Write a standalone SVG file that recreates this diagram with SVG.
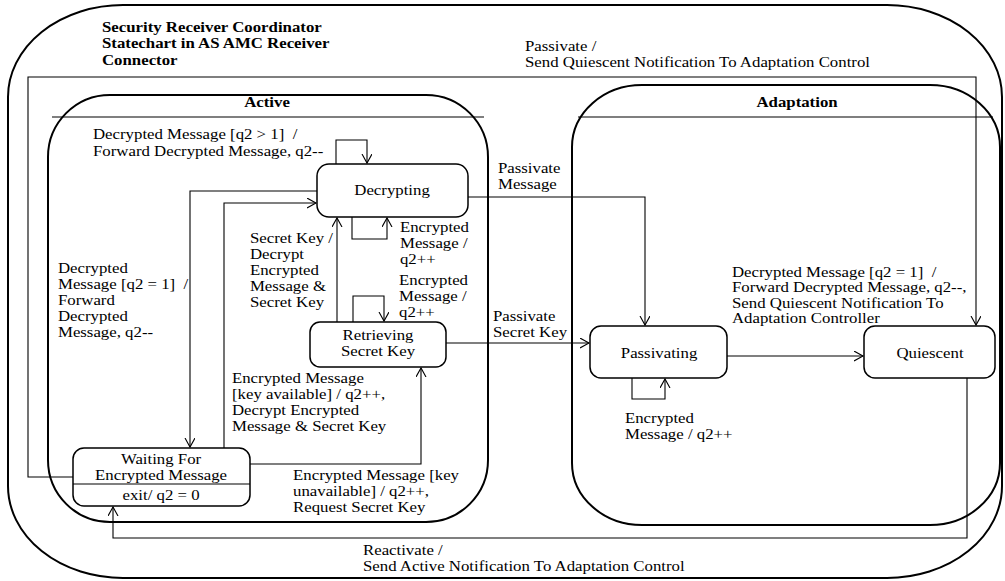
<svg xmlns="http://www.w3.org/2000/svg" width="1005" height="581" viewBox="0 0 1005 581">
<defs>
<marker id="arr" markerUnits="userSpaceOnUse" markerWidth="12" markerHeight="12" refX="9" refY="5" orient="auto">
<path d="M0,0 L9,5 L0,10" fill="none" stroke="#000" stroke-width="1.1"/>
</marker>
<style>
text{font-family:"Liberation Serif","Times New Roman",serif;font-size:14px;fill:#000;white-space:pre}
.b{font-weight:bold}
.c{text-anchor:middle}
.st{fill:#fff;stroke:#000;stroke-width:1.5}
.comp{fill:none;stroke:#000;stroke-width:2}
.ln{fill:none;stroke:#000;stroke-width:1.2}
.cn{fill:none;stroke:#000;stroke-width:1.1;marker-end:url(#arr)}
</style>
</defs>
<rect width="1005" height="581" fill="#fff"/>
<g id="outer">
<rect class="comp" x="8" y="5" width="994" height="573" rx="115" ry="92"/>
<g transform="scale(1.2 1)">
<text class="b" x="85" y="32">Security Receiver Coordinator</text>
<text class="b" x="85" y="48.5">Statechart in AS AMC Receiver</text>
<text class="b" x="85" y="65">Connector</text>
</g>
</g>
<g id="active">
<rect class="comp" x="48" y="95" width="440" height="427" rx="62" ry="62"/>
<line class="ln" x1="52" y1="117" x2="484" y2="117"/>
<text class="b c" transform="scale(1.2 1)" x="222.5" y="107">Active</text>
</g>
<g id="adaptation">
<rect class="comp" x="572" y="85" width="428" height="440" rx="70" ry="62"/>
<line class="ln" x1="578" y1="117" x2="993" y2="117"/>
<text class="b c" transform="scale(1.2 1)" x="664.2" y="107">Adaptation</text>
</g>
<g id="connectors">
<path class="cn" d="M73,477 H28 V77 H976 V325"/>
<path class="cn" d="M967,378 V538 H113 V507"/>
<path class="cn" d="M336,164 V140 H367 V163"/>
<path class="cn" d="M352,217 V239 H387 V218"/>
<path class="cn" d="M317,191 H190 V447"/>
<path class="cn" d="M224,448 V203 H316"/>
<path class="cn" d="M337,322 V218"/>
<path class="cn" d="M353,322 V296 H384 V321"/>
<path class="cn" d="M250,464 H421 V368"/>
<path class="cn" d="M468,197 H645 V325"/>
<path class="cn" d="M446,343 H589"/>
<path class="cn" d="M632,378 V399 H665 V379"/>
<path class="cn" d="M727,356 H863"/>
<g transform="scale(1.2 1)">
<text x="437.5" y="51">Passivate /</text>
<text x="437.5" y="67">Send Quiescent Notification To Adaptation Control</text>
<text x="302.5" y="555">Reactivate /</text>
<text x="302.5" y="571">Send Active Notification To Adaptation Control</text>
<text x="77.5" y="139">Decrypted Message [q2 &gt; 1]  /</text>
<text x="77.5" y="156">Forward Decrypted Message, q2--</text>
<text x="333.3" y="232">Encrypted</text>
<text x="333.3" y="248">Message /</text>
<text x="333.3" y="264">q2++</text>
<text x="48.3" y="273">Decrypted</text>
<text x="48.3" y="289">Message [q2 = 1]  /</text>
<text x="48.3" y="305">Forward</text>
<text x="48.3" y="321">Decrypted</text>
<text x="48.3" y="337">Message, q2--</text>
<text x="208.3" y="243">Secret Key /</text>
<text x="208.3" y="259">Decrypt</text>
<text x="208.3" y="275">Encrypted</text>
<text x="208.3" y="291">Message &amp;</text>
<text x="208.3" y="307">Secret Key</text>
<text x="332.5" y="285">Encrypted</text>
<text x="332.5" y="301">Message /</text>
<text x="332.5" y="317">q2++</text>
<text x="193.3" y="383">Encrypted Message</text>
<text x="193.3" y="399">[key available] / q2++,</text>
<text x="193.3" y="415">Decrypt Encrypted</text>
<text x="193.3" y="431">Message &amp; Secret Key</text>
<text x="244.2" y="480">Encrypted Message [key</text>
<text x="244.2" y="496">unavailable] / q2++,</text>
<text x="244.2" y="512">Request Secret Key</text>
<text x="415" y="173">Passivate</text>
<text x="415" y="189">Message</text>
<text x="410.8" y="321">Passivate</text>
<text x="410.8" y="337">Secret Key</text>
<text x="520.8" y="423">Encrypted</text>
<text x="520.8" y="439">Message / q2++</text>
<text x="610" y="277">Decrypted Message [q2 = 1]  /</text>
<text x="610" y="292.5">Forward Decrypted Message, q2--,</text>
<text x="610" y="308">Send Quiescent Notification To</text>
<text x="610" y="323.5">Adaptation Controller</text>
</g>
</g>
<g id="decrypting">
<rect class="st" x="317" y="164" width="151" height="53" rx="12"/>
<text class="c" transform="scale(1.2 1)" x="326.7" y="195">Decrypting</text>
</g>
<g id="retrieving">
<rect class="st" x="310" y="322" width="136" height="45" rx="10"/>
<g transform="scale(1.2 1)">
<text class="c" x="315" y="340">Retrieving</text>
<text class="c" x="315" y="356">Secret Key</text>
</g>
</g>
<g id="waiting">
<rect class="st" x="73" y="448" width="177" height="58" rx="11"/>
<line class="ln" x1="73" y1="484" x2="250" y2="484"/>
<g transform="scale(1.2 1)">
<text class="c" x="134.2" y="464">Waiting For</text>
<text class="c" x="134.2" y="480">Encrypted Message</text>
<text class="c" x="134.2" y="500">exit/ q2 = 0</text>
</g>
</g>
<g id="passivating">
<rect class="st" x="590" y="326" width="137" height="52" rx="11"/>
<text class="c" transform="scale(1.2 1)" x="549.2" y="358">Passivating</text>
</g>
<g id="quiescent">
<rect class="st" x="864" y="326" width="131" height="52" rx="11"/>
<text class="c" transform="scale(1.2 1)" x="775" y="358">Quiescent</text>
</g>
</svg>
